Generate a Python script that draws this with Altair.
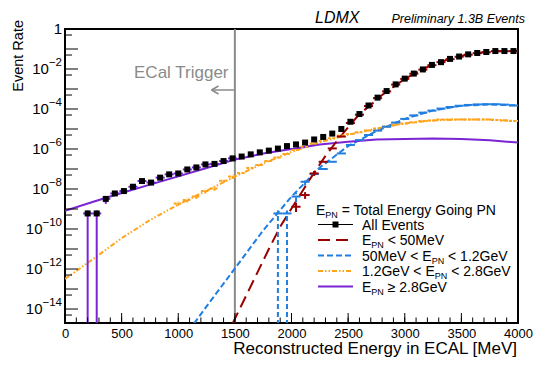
import altair as alt
import pandas as pd

FONT = "Liberation Sans"
W, H = 453, 294

# ---------------- data ----------------
ALL_X = [200, 280] + list(range(360, 4000, 80))
ALL_Y = [6.0e-10, 6.0e-10,
         3.2e-9, 6.0e-9, 7.9e-9, 1.3e-8, 2.5e-8, 2.1e-8, 3.7e-8, 5.4e-8, 6.0e-8, 9.5e-8,
         1.2e-7, 1.7e-7, 1.8e-7, 2.5e-7, 3.4e-7,
         4.2e-7, 5.4e-7, 6.8e-7, 8.3e-7, 1.05e-6, 1.4e-6, 1.7e-6, 2.1e-6, 3.0e-6, 4.0e-6,
         5.9e-6, 1.0e-5,
         2.3e-5, 5.6e-5, 1.5e-4, 3.7e-4, 7.9e-4, 1.7e-3, 3.3e-3, 5.9e-3, 9.5e-3, 1.6e-2,
         2.2e-2, 3.2e-2, 4.2e-2, 5.4e-2, 6.3e-2, 7.1e-2, 7.9e-2, 7.9e-2, 7.9e-2]

# E_PN < 50 MeV
RED_LX = [1480, 1600, 1800, 1900, 2000, 2100, 2200, 2300, 2400, 2500, 2600, 2700, 2800,
          2900, 3000, 3100, 3200, 3300, 3400, 3500, 3600, 3700, 3800, 3900, 4000]
RED_LY = [1.9e-15, 4.7e-14, 1.0e-11, 1.3e-10, 1.05e-9, 8.5e-9, 6.6e-8, 4.5e-7, 2.5e-6,
          1.23e-5, 5.6e-5, 1.6e-4, 5.0e-4, 1.26e-3, 3.2e-3, 6.6e-3, 1.26e-2, 2.1e-2, 3.2e-2,
          4.5e-2, 5.8e-2, 6.9e-2, 7.6e-2, 7.9e-2, 7.9e-2]
RED_HX = [2040, 2120, 2200, 2280, 2360, 2440] + list(range(2520, 4000, 80))
RED_HY = [1.3e-9, 5.0e-9, 6.0e-8, 2.3e-7, 1.07e-6, 4.2e-6,
          2.0e-5, 5.2e-5, 1.4e-4, 3.5e-4, 7.6e-4, 1.66e-3, 3.2e-3, 5.8e-3, 9.3e-3, 1.55e-2,
          2.2e-2, 3.1e-2, 4.1e-2, 5.2e-2, 6.2e-2, 6.9e-2, 7.8e-2, 7.8e-2, 7.8e-2]
RED_EX = [2040, 2120, 2200]
RED_ELO = [7.1e-10, 3.2e-9, 4.5e-8]
RED_EHI = [2.0e-9, 7.0e-9, 8.0e-8]

# 50 MeV < E_PN < 1.2 GeV
BLUE_LX = [1140, 1250, 1500, 1750, 2000, 2250, 2500, 2750, 3000, 3250, 3500, 3750, 4000]
BLUE_LY = [1.9e-15, 1.35e-14, 1.07e-12, 8.5e-11, 4.2e-9, 1.2e-7, 1.4e-6, 7.9e-6, 3.2e-5,
           8.5e-5, 1.45e-4, 1.7e-4, 1.5e-4]
BLUE_HX = list(range(1880, 4000, 80))
BLUE_HY = [6.0e-10, 6.0e-10, 4.2e-9, 2.3e-8, 5.6e-8, 1.0e-7, 2.3e-7, 6.0e-7, 1.6e-6, 2.8e-6,
           5.0e-6, 8.3e-6, 1.3e-5, 2.1e-5, 3.2e-5, 4.8e-5, 6.6e-5, 8.3e-5, 1.05e-4, 1.26e-4,
           1.45e-4, 1.6e-4, 1.7e-4, 1.74e-4, 1.74e-4, 1.66e-4, 1.5e-4]
BLUE_EX = [1880, 1960, 2040, 2120]
BLUE_ELO = [1e-16, 1e-16, 2.2e-9, 1.5e-8]
BLUE_EHI = [8.5e-10, 8.5e-10, 6.5e-9, 3.2e-8]

# 1.2 GeV < E_PN < 2.8 GeV
ORG_LX = [0, 250, 500, 750, 1000, 1250, 1500, 1750, 2000, 2250, 2500, 2750, 3000, 3250,
          3500, 3750, 4000]
ORG_LY = [3.2e-13, 3.2e-12, 3.5e-11, 2.8e-10, 1.66e-9, 8.3e-9, 4.2e-8, 1.9e-7, 7.2e-7,
          2.2e-6, 5.1e-6, 1.05e-5, 1.9e-5, 2.7e-5, 3.0e-5, 2.95e-5, 2.5e-5]
ORG_HX = list(range(1000, 4000, 80))
ORG_HY = [1.9e-9, 2.8e-9, 4.2e-9, 7.9e-9, 1.07e-8, 2.6e-8, 4.2e-8,
          6.3e-8, 1.12e-7, 1.6e-7, 2.5e-7, 3.8e-7, 5.6e-7, 8.9e-7, 1.3e-6, 1.9e-6, 2.5e-6,
          3.5e-6, 4.7e-6,
          5.6e-6, 6.8e-6, 8.5e-6, 1.07e-5, 1.35e-5, 1.66e-5, 1.9e-5, 2.2e-5, 2.5e-5, 2.7e-5,
          2.95e-5, 3.0e-5, 3.0e-5, 3.0e-5, 3.0e-5, 2.95e-5, 2.8e-5, 2.7e-5, 2.5e-5]
ORG_EX = [1000, 1080, 1160, 1240, 1320, 1400, 1480]
ORG_ELO = [1.45e-9, 2.1e-9, 3.2e-9, 6.0e-9, 8.1e-9, 2.0e-8, 3.2e-8]
ORG_EHI = [2.5e-9, 3.7e-9, 5.5e-9, 1.04e-8, 1.41e-8, 3.4e-8, 5.5e-8]

# E_PN >= 2.8 GeV
PUR_LX = [0, 250, 500, 750, 1000, 1250, 1500, 1750, 2000, 2250, 2500, 2750, 3000, 3250,
          3500, 3750, 4000]
PUR_LY = [8.1e-10, 2.3e-9, 6.3e-9, 1.66e-8, 4.3e-8, 1.12e-7, 2.95e-7, 5.9e-7, 1.0e-6,
          1.66e-6, 2.3e-6, 3.0e-6, 3.2e-6, 3.4e-6, 3.2e-6, 2.75e-6, 2.1e-6]
PUR_HX = [200, 280] + list(range(360, 1500, 80))
PUR_HY = [6.0e-10, 6.0e-10, 3.2e-9, 6.0e-9, 7.9e-9, 1.3e-8, 2.5e-8, 2.1e-8, 3.7e-8,
          5.4e-8, 6.0e-8, 9.5e-8, 1.2e-7, 1.7e-7, 1.8e-7, 2.5e-7, 3.4e-7]
PUR_EX = [200, 280, 360]
PUR_ELO = [1e-16, 1e-16, 1.8e-9]
PUR_EHI = [8.5e-10, 8.5e-10, 4.5e-9]

TRIGGER_X = [1500]
X_TICK_LABELS = [0, 500, 1000, 1500, 2000, 2500, 3000, 3500, 4000]
Y_LABEL_VALUES = [1e-2, 1e-4, 1e-6, 1e-8, 1e-10, 1e-12, 1e-14]
Y_LABEL_EXPS = ["\u22122", "\u22124", "\u22126", "\u22128", "\u221210", "\u221212", "\u221214"]
Y_MAJOR = [1.0, 1e-1, 1e-2, 1e-3, 1e-4, 1e-5, 1e-6, 1e-7, 1e-8, 1e-9, 1e-10, 1e-11, 1e-12,
           1e-13, 1e-14]
Y_MINOR = [5e-1, 5e-2, 5e-3, 5e-4, 5e-5, 5e-6, 5e-7, 5e-8, 5e-9, 5e-10, 5e-11, 5e-12, 5e-13,
           5e-14, 5e-15]
X_MAJOR = list(range(0, 4001, 500))
X_MINOR = list(range(0, 4001, 100))

RED, BLUE, ORANGE, PURPLE = "#990000", "#1f7ee0", "#ffa31a", "#7a24d6"
GRAY = "#8a8a8a"
D_RED, D_BLUE, D_ORG = [12, 6], [6, 3], [5, 2, 1.5, 2, 1.5, 2]

# ---------------- scales / helpers ----------------
xs = alt.Scale(domain=[0, 4000], nice=False, zero=False)
ys = alt.Scale(type="log", domain=[2e-15, 1.0], nice=False)
xaxis = alt.Axis(values=X_TICK_LABELS, format="d", labelFontSize=13, labelFont=FONT,
                 labelColor="black", ticks=False, domain=False, grid=False, labelPadding=4,
                 title=None, labelFlush=False, labelOverlap=False, labelBound=False)


def X(f):
    return alt.X(f, type="quantitative", scale=xs, axis=xaxis)


def Y(f):
    return alt.Y(f, type="quantitative", scale=ys, axis=None)


def curve(xv, yv, color, dash=None, width=2):
    kw = dict(color=color, strokeWidth=width, clip=True)
    if dash:
        kw["strokeDash"] = dash
    return alt.Chart(pd.DataFrame({"x": xv, "y": yv})).mark_line(**kw).encode(
        x=X("x"), y=Y("y"))


def hist(xv, yv, color, dash=None):
    kw = dict(color=color, strokeWidth=2, clip=True)
    if dash:
        kw["strokeDash"] = dash
    df = pd.DataFrame({"lo": [c - 40 for c in xv], "hi": [c + 40 for c in xv], "y": yv})
    return alt.Chart(df).mark_rule(**kw).encode(x=X("lo"), x2="hi", y=Y("y"))


def errs(xv, lo, hi, color, dash=None):
    kw = dict(color=color, strokeWidth=2, clip=True)
    if dash:
        kw["strokeDash"] = dash
    df = pd.DataFrame({"x": xv, "lo": lo, "hi": hi})
    return alt.Chart(df).mark_rule(**kw).encode(x=X("x"), y=Y("lo"), y2="hi")


def txt(t, x, y, size, color="black", align="left", style="normal", angle=0,
        baseline="alphabetic"):
    return alt.Chart(pd.DataFrame({"t": [t]})).mark_text(
        align=align, baseline=baseline, font=FONT, fontSize=size, fontStyle=style,
        color=color, angle=angle).encode(text="t:N", x=alt.value(x), y=alt.value(y))


def seg(x1, y1, x2, y2, color, width=1.5, dash=None):
    kw = dict(color=color, strokeWidth=width)
    if dash:
        kw["strokeDash"] = dash
    return alt.Chart(pd.DataFrame({"a": [0]})).mark_rule(**kw).encode(
        x=alt.value(x1), y=alt.value(y1), x2=alt.value(x2), y2=alt.value(y2))


AW = {'E': 667, 'P': 667, 'N': 722, ' ': 278, '<': 584, '5': 556, '0': 556, 'M': 833,
      'e': 556, 'V': 667, '1': 556, '.': 278, '2': 556, 'G': 778, '8': 556, '\u2265': 549,
      '=': 584, 'T': 611, 'o': 556, 't': 278, 'a': 556, 'l': 222, 'n': 556, 'r': 333,
      'g': 556, 'y': 500, 'i': 222, 'A': 667, 'v': 500, 's': 500}


def tw(s, size):
    return sum(AW.get(c, 556) for c in s) * size / 1000.0


def rich(parts, x0, y0, size=14, sub=9):
    out = []
    x = x0
    for s, is_sub in parts:
        fs = sub if is_sub else size
        lead = len(s) - len(s.lstrip(" "))
        x += lead * tw(" ", fs)
        s2 = s.lstrip(" ")
        out.append(txt(s2, x, y0 + (3 if is_sub else 0), fs))
        x += tw(s2, fs)
    return out


layers = []

# trigger line
layers.append(alt.Chart(pd.DataFrame({"x": TRIGGER_X})).mark_rule(
    color=GRAY, strokeWidth=2).encode(x=X("x")))

# fitted curves
layers.append(curve(ORG_LX, ORG_LY, ORANGE, D_ORG))
layers.append(curve(BLUE_LX, BLUE_LY, BLUE, D_BLUE))
layers.append(curve(PUR_LX, PUR_LY, PURPLE))
layers.append(curve(RED_LX, RED_LY, RED, D_RED))

# histograms
layers.append(hist(ORG_HX, ORG_HY, ORANGE, [3, 1.5]))
layers.append(errs(ORG_EX, ORG_ELO, ORG_EHI, ORANGE, [3, 1.5]))
layers.append(hist(BLUE_HX, BLUE_HY, BLUE))
layers.append(errs(BLUE_EX, BLUE_ELO, BLUE_EHI, BLUE, [5, 3]))
layers.append(hist(PUR_HX, PUR_HY, PURPLE))
layers.append(errs(PUR_EX, PUR_ELO, PUR_EHI, PURPLE))
layers.append(hist(RED_HX, RED_HY, RED))
layers.append(errs(RED_EX, RED_ELO, RED_EHI, RED))

# all events
layers.append(alt.Chart(pd.DataFrame({"x": ALL_X, "y": ALL_Y})).mark_point(
    shape="square", filled=True, size=36, color="black", opacity=1, clip=True).encode(
    x=X("x"), y=Y("y")))

# inward ticks
layers.append(alt.Chart(pd.DataFrame({"v": Y_MAJOR})).mark_rule(
    color="black", strokeWidth=1).encode(y=Y("v"), x=alt.value(0), x2=alt.value(13)))
layers.append(alt.Chart(pd.DataFrame({"v": Y_MINOR})).mark_rule(
    color="black", strokeWidth=1).encode(y=Y("v"), x=alt.value(0), x2=alt.value(7)))
layers.append(alt.Chart(pd.DataFrame({"v": X_MAJOR})).mark_rule(
    color="black", strokeWidth=1).encode(x=X("v"), y=alt.value(H), y2=alt.value(H - 10)))
layers.append(alt.Chart(pd.DataFrame({"v": X_MINOR})).mark_rule(
    color="black", strokeWidth=1).encode(x=X("v"), y=alt.value(H), y2=alt.value(H - 5.5)))

# y tick labels: "1", then 10^exp
BASE_FS, EXP_FS = 15, 11.5
layers.append(alt.Chart(pd.DataFrame({"v": [1.0], "t": ["1"]})).mark_text(
    align="right", baseline="middle", font=FONT, fontSize=BASE_FS, color="black").encode(
    y=Y("v"), text="t:N", x=alt.value(-3)))
for n in (2, 3):
    vals = [v for v, e in zip(Y_LABEL_VALUES, Y_LABEL_EXPS) if len(e) == n]
    w = (584 + 556 * (n - 1)) * EXP_FS / 1000.0
    layers.append(alt.Chart(pd.DataFrame({"v": vals, "t": ["10"] * len(vals)})).mark_text(
        align="right", baseline="middle", font=FONT, fontSize=BASE_FS, color="black").encode(
        y=Y("v"), text="t:N", x=alt.value(-3 - w)))
layers.append(alt.Chart(pd.DataFrame({"v": Y_LABEL_VALUES, "t": Y_LABEL_EXPS})).mark_text(
    align="right", baseline="middle", font=FONT, fontSize=EXP_FS, color="black", dy=-6).encode(
    y=Y("v"), text="t:N", x=alt.value(-3)))

# titles / annotations
layers.append(txt("Reconstructed Energy in ECAL [MeV]", 452, 325, 17, align="right"))
layers.append(txt("Event Rate", -42, -9, 14.5, align="right", angle=270))
layers.append(txt("LDMX", 250, -6, 16, style="italic"))
layers.append(txt("Preliminary 1.3B Events", 326.5, -6.5, 12.5, style="italic"))
layers.append(txt("ECal Trigger", 163.5, 48.5, 17, color=GRAY, align="right"))
layers.append(seg(146.5, 61, 169.9, 61, GRAY))
layers.append(seg(146.5, 61, 153.5, 57, GRAY))
layers.append(seg(146.5, 61, 153.5, 65, GRAY))

# legend
layers += rich([("E", 0), ("PN", 1), (" = Total Energy Going PN", 0)], 251, 186)
LEG_Y = [200.5, 216, 231.5, 247, 262.5]
layers += rich([("All Events", 0)], 297, LEG_Y[0])
layers += rich([("E", 0), ("PN", 1), (" < 50MeV", 0)], 297, LEG_Y[1])
layers += rich([("50MeV < E", 0), ("PN", 1), (" < 1.2GeV", 0)], 297, LEG_Y[2])
layers += rich([("1.2GeV < E", 0), ("PN", 1), (" < 2.8GeV", 0)], 297, LEG_Y[3])
layers += rich([("E", 0), ("PN", 1), (" \u2265 2.8GeV", 0)], 297, LEG_Y[4])
layers.append(seg(253, LEG_Y[0] - 5, 288, LEG_Y[0] - 5, "black", 1))
layers.append(alt.Chart(pd.DataFrame({"a": [0]})).mark_point(
    shape="square", filled=True, size=36, color="black", opacity=1).encode(
    x=alt.value(270.5), y=alt.value(LEG_Y[0] - 5)))
layers.append(seg(253, LEG_Y[1] - 5, 288, LEG_Y[1] - 5, RED, 2, D_RED))
layers.append(seg(253, LEG_Y[2] - 5, 288, LEG_Y[2] - 5, BLUE, 2, D_BLUE))
layers.append(seg(253, LEG_Y[3] - 5, 288, LEG_Y[3] - 5, ORANGE, 2, D_ORG))
layers.append(seg(253, LEG_Y[4] - 5, 288, LEG_Y[4] - 5, PURPLE, 2))

chart = alt.layer(*layers).properties(
    width=W, height=H,
    padding={"left": 57, "top": 21, "right": 19, "bottom": 35},
    autosize=alt.AutoSizeParams(type="none"),
    background="white",
).configure_view(stroke="black", strokeWidth=2)

chart.save("out.html", embed_options={"renderer": "svg", "actions": False})
